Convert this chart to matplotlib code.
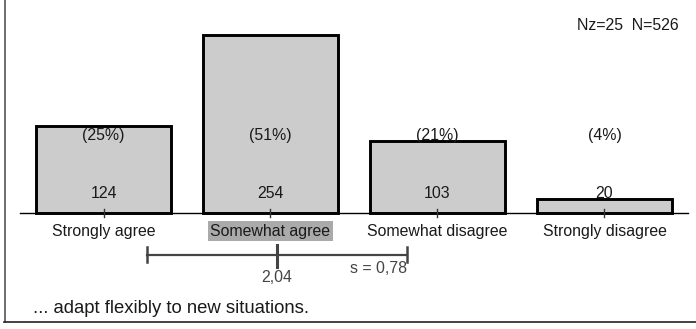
import matplotlib.pyplot as plt
from matplotlib.lines import Line2D

plt.rcParams['font.family'] = ['Liberation Sans', 'DejaVu Sans']

# ========= DATA =========
categories = ['Strongly agree', 'Somewhat agree', 'Somewhat disagree', 'Strongly disagree']
counts = [124, 254, 103, 20]
percents = ['(25%)', '(51%)', '(21%)', '(4%)']
mean_val = 2.04
std_val = 0.78
mean_label = '2,04'
std_label = 's = 0,78'
n_label = 'Nz=25  N=526'
item_text = '... adapt flexibly to new situations.'
highlight_idx = 1  # category holding the median

# ========= PLOT =========
fig = plt.figure(figsize=(6.96, 3.29), dpi=100)
ax = fig.add_axes([0, 0, 1, 1])
ax.set_xlim(0.3802, 4.548)
ax.set_ylim(-165.7, 304.3)
ax.axis('off')

xs = list(range(1, len(categories) + 1))
ax.bar(xs, counts, width=0.81, color='#cccccc', edgecolor='black', linewidth=2.1, zorder=2)
ax.plot([0.5, 4.5], [0, 0], color='black', lw=1.0, zorder=3)

txt_color = '#1a1a1a'
for i, (x, c, p) in enumerate(zip(xs, counts, percents)):
    ax.text(x, 111, p, ha='center', va='center', fontsize=11.4, color=txt_color, zorder=4)
    ax.text(x, 28, str(c), ha='center', va='center', fontsize=11.4, color=txt_color, zorder=4)
    ax.plot([x, x], [-6, 6], color='#333333', lw=1.0, zorder=4)
    kw = {}
    if i == highlight_idx:
        kw['bbox'] = dict(facecolor='#aaaaaa', edgecolor='none', pad=1.8)
    ax.text(x, -26, categories[i], ha='center', va='center', fontsize=11.4,
            color=txt_color, **kw)

# mean +/- sd bar
lo, hi = mean_val - std_val, mean_val + std_val
gray = '#444444'
ax.plot([lo, hi], [-60, -60], color=gray, lw=1.6)
ax.plot([lo, lo], [-49, -70], color=gray, lw=1.8)
ax.plot([hi, hi], [-49, -70], color=gray, lw=1.8)
ax.plot([mean_val, mean_val], [-46, -77], color=gray, lw=2.2)
ax.text(mean_val, -92, mean_label, ha='center', va='center', fontsize=11.4, color=gray)
ax.text(hi, -79, std_label, ha='right', va='center', fontsize=11.4, color=gray)

ax.text(4.446, 268, n_label, ha='right', va='center', fontsize=11.4, color=txt_color)
ax.text(0.58, -137, item_text, ha='left', va='center', fontsize=13.3, color=txt_color)

# frame: left and bottom only
fig.add_artist(Line2D([4.5 / 696, 4.5 / 696], [1, 7 / 329], color='#555555', lw=1.2))
fig.add_artist(Line2D([4 / 696, 1], [7 / 329, 7 / 329], color='#222222', lw=1.2))

fig.savefig('out.png', dpi=100)
